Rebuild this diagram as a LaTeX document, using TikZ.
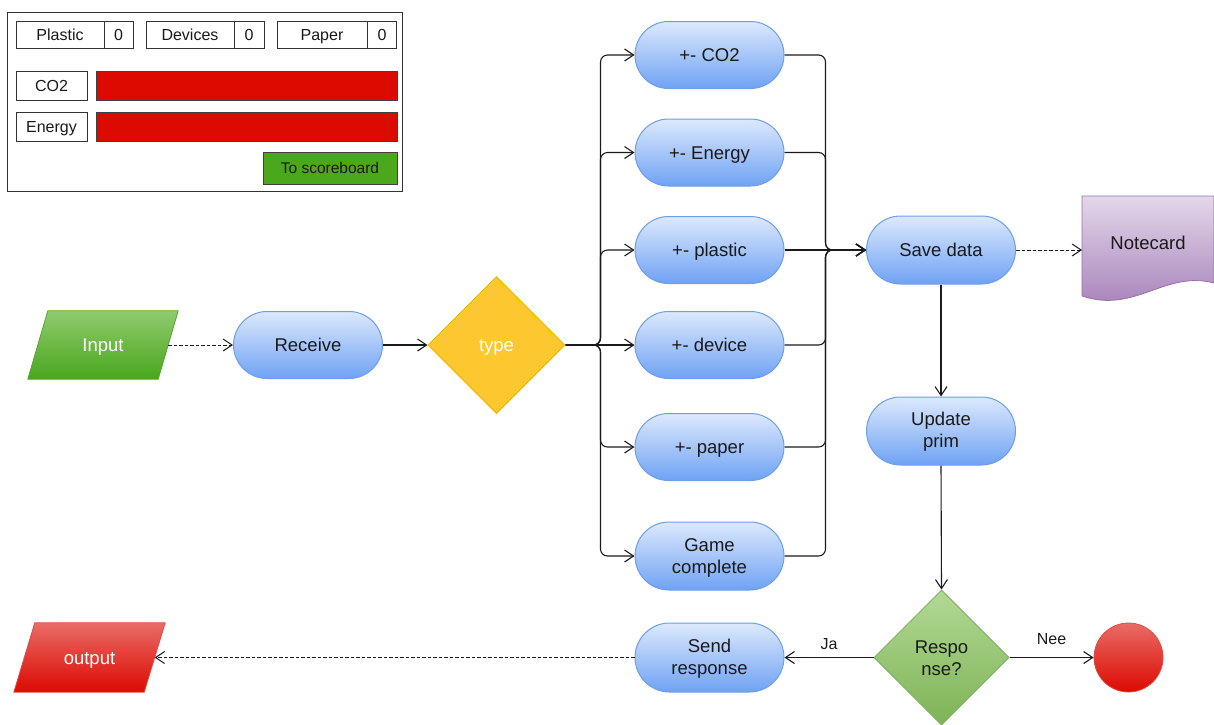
\documentclass[tikz,border=0pt]{standalone}
\usepackage{fontspec}
\setmainfont{Liberation Sans}
\usetikzlibrary{shapes.geometric,shapes.misc,arrows.meta,calc}

\definecolor{blueTop}{HTML}{DCE9FD}
\definecolor{blueBot}{HTML}{6FA2F4}
\definecolor{blueLine}{HTML}{6D9EEB}
\definecolor{greenTop}{HTML}{8FCB6E}
\definecolor{greenBot}{HTML}{4AA61C}
\definecolor{greenLine}{HTML}{56A62E}
\definecolor{redTop}{HTML}{EA6B66}
\definecolor{redBot}{HTML}{DC0A00}
\definecolor{redLine}{HTML}{E04A44}
\definecolor{typeFill}{HTML}{FDC82F}
\definecolor{typeLine}{HTML}{F2B705}
\definecolor{respTop}{HTML}{B2D994}
\definecolor{respBot}{HTML}{7EB356}
\definecolor{respLine}{HTML}{82B366}
\definecolor{noteTop}{HTML}{E3D7EA}
\definecolor{noteBot}{HTML}{A47DB7}
\definecolor{noteLine}{HTML}{9673A6}
\definecolor{barRed}{HTML}{DD0A00}
\definecolor{boardGreen}{HTML}{4CA81B}
\definecolor{ink}{HTML}{1A1A1A}

\tikzset{
  mainfont/.style={font=\fontsize{18.5}{22}\selectfont},
  smallfont/.style={font=\fontsize{16}{18}\selectfont},
  % fixed text box so caps sit on the node's centre line
  oneline/.style={text height=16.6pt, text depth=3.3pt},
  smallline/.style={text height=14.3pt, text depth=2.9pt},
  flow/.style={line width=1.1pt, draw=ink, -{Straight Barb[length=9pt,width=12pt]}},
  dashflow/.style={flow, line width=1pt, dash pattern=on 3.5pt off 2pt},
  proc/.style={rounded rectangle, draw=blueLine, line width=1pt,
    top color=blueTop, bottom color=blueBot, minimum width=149pt,
    minimum height=67pt, inner sep=0pt, align=center, mainfont, text=ink},
  iobox/.style={minimum width=130pt, minimum height=68pt, inner sep=0pt,
    mainfont, text=white, oneline},
  cell/.style={draw=black!80, line width=0.9pt, fill=white, inner sep=0pt,
    minimum height=27pt, smallfont, text=ink, smallline},
  bar/.style={draw=black!75, line width=0.9pt, fill=barRed, inner sep=0pt,
    minimum height=29pt, minimum width=301pt},
  edgelabel/.style={smallfont, text=ink, inner sep=1pt, above=#1},
  edgelabel/.default=6pt
}

\begin{document}
\begin{tikzpicture}[x=1pt,y=-1pt]
\useasboundingbox (0,0) rectangle (1214,724);

% ---- score panel ----
\node[draw=black!80, line width=1pt, fill=white, minimum width=395pt,
      minimum height=179pt, inner sep=0pt] (panel) at (204.5,101.5) {};
\node[cell, minimum width=88pt] (plasticLbl) at (60,34.5) {Plastic};
\node[cell, minimum width=29pt] (plasticVal) at (118.5,34.5) {0};
\node[cell, minimum width=88pt] (devicesLbl) at (190,34.5) {Devices};
\node[cell, minimum width=30pt] (devicesVal) at (249,34.5) {0};
\node[cell, minimum width=90pt] (paperLbl) at (322,34.5) {Paper};
\node[cell, minimum width=29.5pt] (paperVal) at (382,34.5) {0};
\node[cell, minimum width=71pt, minimum height=29pt] (co2Lbl) at (51.5,85.5) {CO2};
\node[bar] (co2Bar) at (246.5,85.5) {};
\node[cell, minimum width=71pt, minimum height=29pt] (energyLbl) at (51.5,126.5) {Energy};
\node[bar] (energyBar) at (246.5,126.5) {};
\node[draw=black!75, line width=0.9pt, fill=boardGreen, minimum width=134pt,
      minimum height=32pt, inner sep=0pt, font=\fontsize{15.5}{18}\selectfont,
      text=ink, smallline] (board) at (330,168) {To scoreboard};

% ---- input / output parallelograms ----
\node[iobox] (input) at (103,345) {};
\path[draw=greenLine, line width=0.8pt, top color=greenTop, bottom color=greenBot]
  ($(input.south west)+(-10,0)$) -- ($(input.north west)+(10,0)$) --
  ($(input.north east)+(10,0)$) -- ($(input.south east)+(-10,0)$) -- cycle;
\node[iobox] at (input.center) {Input};

\node[iobox, minimum height=69pt] (output) at (89.5,657.5) {};
\path[draw=redLine, line width=0.8pt, top color=redTop, bottom color=redBot]
  ($(output.south west)+(-10.5,0)$) -- ($(output.north west)+(10.5,0)$) --
  ($(output.north east)+(10.5,0)$) -- ($(output.south east)+(-10.5,0)$) -- cycle;
\node[iobox] at (output.center) {output};

% ---- process nodes ----
\node[proc, oneline] (receive) at (308,345) {Receive};
\node[diamond, minimum width=137pt, minimum height=137pt, inner sep=0pt,
      fill=typeFill, draw=typeLine, line width=1pt, mainfont, text=white, oneline]
      (type) at (496.5,345) {type};

\node[proc, oneline] (co2) at (709.5,55) {+- CO2};
\node[proc, oneline] (energy) at (709.5,152.5) {+- Energy};
\node[proc, oneline] (plastic) at (709.5,250) {+- plastic};
\node[proc, oneline] (device) at (709.5,345) {+- device};
\node[proc, oneline] (paper) at (709.5,447) {+- paper};
\node[proc, minimum height=68pt] (game) at (709.5,556) {};
\node[mainfont, text=ink, align=center, inner sep=0pt] at ($(game.center)+(0,2)$) {Game\\complete};

\node[proc, oneline, minimum height=68pt] (save) at (941,250) {Save data};
\node[proc, minimum height=68pt] (update) at (941,431) {};
\node[mainfont, text=ink, align=center, inner sep=0pt] at ($(update.center)+(0,1)$) {Update\\prim};
\node[diamond, minimum width=135pt, minimum height=135pt, inner sep=0pt,
      top color=respTop, bottom color=respBot, draw=respLine, line width=1pt]
      (response) at (941.5,657.5) {};
\node[mainfont, text=ink, align=center, inner sep=0pt] at ($(response.center)+(0,1)$) {Respo\\nse?};
\node[proc, minimum height=69pt] (send) at (709.5,657.5) {};
\node[mainfont, text=ink, align=center, inner sep=0pt] at ($(send.center)+(0,1)$) {Send\\response};
\node[circle, minimum size=69pt, inner sep=0pt, top color=redTop,
      bottom color=redBot, draw=redLine, line width=0.8pt] (stop) at (1128.5,657.5) {};

% ---- notecard (document shape) ----
\path[draw=noteLine, line width=0.8pt, top color=noteTop, bottom color=noteBot]
  (1082,196) -- (1214,196) -- (1214,283)
  .. controls (1165,270) and (1135,314) .. (1082,296) -- cycle;
\node[mainfont, text=ink, inner sep=0pt, oneline] (notecard) at (1148,243) {Notecard};
\coordinate (notecardW) at (1082,250);

% ---- connectors ----
\draw[dashflow] (input.east) -- (receive.west);
\draw[flow] (receive.east) -- (type.west);

\foreach \n in {co2,energy,plastic,paper,game}
  \draw[flow, rounded corners=7pt] (type.east) -- ++(35,0) |- (\n.west);
\draw[flow] (type.east) -- (device.west);

\foreach \n in {co2,energy,device,paper,game}
  \draw[flow, rounded corners=7pt] (\n.east) -- ++(41,0) |- (save.west);
\draw[flow] (plastic.east) -- (save.west);

\draw[dashflow] (save.east) -- (notecardW);
\draw[flow] (save.south) -- (update.north);
\draw[flow] (update.south) -- (response.north);
\draw[flow] (response.west) -- node[edgelabel] {Ja} (send.east);
\draw[flow] (response.east) -- node[edgelabel=11pt] {Nee} (stop.west);
\draw[dashflow] (send.west) -- (output.east);
\end{tikzpicture}
\end{document}
